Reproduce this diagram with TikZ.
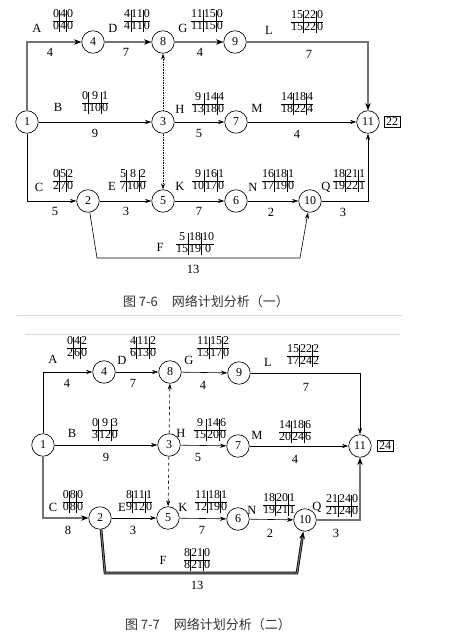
\documentclass[tikz,border=0pt]{standalone}
\usepackage{fontspec}
\setmainfont{Liberation Serif}
\newfontfamily\cjk{Noto Sans CJK SC}
\usetikzlibrary{arrows.meta}
\newcommand{\tsix}[6]{{\setlength{\tabcolsep}{0.5pt}\renewcommand{\arraystretch}{0.82}\begin{tabular}{@{}c|c|c@{}}#1&#2&#3\\\hline #4&#5&#6\end{tabular}}}
\begin{document}
\begin{tikzpicture}[x=1pt,y=-1pt,
  ev/.style={circle, draw, minimum size=22.5pt, inner sep=0pt, line width=0.65pt, font=\fontsize{12}{12}\selectfont},
  lab/.style={inner sep=0pt, font=\fontsize{12.5}{13}\selectfont},
  dur/.style={inner sep=0pt, font=\fontsize{12.5}{13}\selectfont},
  tt/.style={inner sep=0pt, font=\fontsize{12}{13}\selectfont},
  act/.style={line width=0.6pt, -{Stealth[length=6.5pt,width=4.2pt]}},
  crit/.style={line width=0.75pt, double=black!55, double distance=1.1pt, -{Stealth[length=7.5pt,width=5.5pt]}},
  dumtop/.style={line width=0.65pt, densely dotted, -{Stealth[length=6pt,width=4pt]}},
  dumbot/.style={line width=0.65pt, dashed, -{Stealth[length=6pt,width=4pt]}},
  endbox/.style={draw, line width=0.6pt, inner sep=1.8pt, font=\fontsize{12}{12}\selectfont},
  sepline/.style={gray!30, line width=0.6pt},
  captext/.style={inner sep=0pt, text=black!80, font=\cjk\fontsize{13}{13}\selectfont}]
\useasboundingbox (0,0) rectangle (462,641);

% ================= Figure 7-6 =================
\node[ev] (a1) at (27,122) {1};
\node[ev] (a4) at (93,42) {4};
\node[ev] (a8) at (163,42) {8};
\node[ev] (a9) at (235,42) {9};
\node[ev] (a3) at (163,122) {3};
\node[ev] (a7) at (236,122) {7};
\node[ev] (a11) at (368,122) {11};
\node[endbox] (a22) at (392,122) {22};
\node[ev] (a2) at (88,201) {2};
\node[ev] (a5) at (163,201) {5};
\node[ev] (a6) at (236,201) {6};
\node[ev] (a10) at (310,201) {10};
\coordinate (af1) at (97,258);
\coordinate (af2) at (300,258);

\draw[crit] (a1) |- (a4);
\draw[crit] (a4) -- (a8);
\draw[crit] (a8) -- (a9);
\draw[crit] (a9) -| (a11);
\draw[act] (a1) -- (a3);
\draw[act] (a3) -- (a7);
\draw[act] (a7) -- (a11);
\draw[act] (a1) |- (a2);
\draw[act] (a2) -- (a5);
\draw[act] (a5) -- (a6);
\draw[act] (a6) -- (a10);
\draw[act] (a10) -| (a11);
\draw[act] (a2) -- (af1) -- (af2) -- (a10);
\draw[dumtop] (a3) -- (a8);
\draw[dumtop] (a3) -- (a5);

\node[lab] (aA) at (37,28) {A};
\node[tt] (aAt) at (63,21) {\tsix{0}{4}{0}{0}{4}{0}};
\node[dur] (aAd) at (50,52) {4};
\node[lab] (aD) at (113,28) {D};
\node[tt] (aDt) at (137,21) {\tsix{4}{11}{0}{4}{11}{0}};
\node[dur] (aDd) at (126,52) {7};
\node[lab] (aG) at (183,28) {G};
\node[tt] (aGt) at (207,21) {\tsix{11}{15}{0}{11}{15}{0}};
\node[dur] (aGd) at (200,52) {4};
\node[lab] (aL) at (269,30) {L};
\node[tt] (aLt) at (307,22) {\tsix{15}{22}{0}{15}{22}{0}};
\node[dur] (aLd) at (309,54) {7};
\node[lab] (aB) at (58,107) {B};
\node[tt] (aBt) at (95,103) {\tsix{0}{9}{1}{1}{10}{0}};
\node[dur] (aBd) at (95,133) {9};
\node[lab] (aH) at (180,109) {H};
\node[tt] (aHt) at (208,104) {\tsix{9}{14}{4}{13}{18}{0}};
\node[dur] (aHd) at (199,133) {5};
\node[lab] (aM) at (257,108) {M};
\node[tt] (aMt) at (297,104) {\tsix{14}{18}{4}{18}{22}{4}};
\node[dur] (aMd) at (297,134) {4};
\node[lab] (aC) at (39,187) {C};
\node[tt] (aCt) at (63,181) {\tsix{0}{5}{2}{2}{7}{0}};
\node[dur] (aCd) at (55,211) {5};
\node[lab] (aE) at (112,186) {E};
\node[tt] (aEt) at (133,181) {\tsix{5}{8}{2}{7}{10}{0}};
\node[dur] (aEd) at (126,211) {3};
\node[lab] (aK) at (180,186) {K};
\node[tt] (aKt) at (208,181) {\tsix{9}{16}{1}{10}{17}{0}};
\node[dur] (aKd) at (199,211) {7};
\node[lab] (aN) at (253,187) {N};
\node[tt] (aNt) at (278,181) {\tsix{16}{18}{1}{17}{19}{0}};
\node[dur] (aNd) at (271,212) {2};
\node[lab] (aQ) at (326,187) {Q};
\node[tt] (aQt) at (349,181) {\tsix{18}{21}{1}{19}{22}{1}};
\node[dur] (aQd) at (343,212) {3};
\node[lab] (aF) at (160,247) {F};
\node[tt] (aFt) at (195,244) {\tsix{5}{18}{10}{15}{19}{0}};
\node[dur] (aFd) at (193,269) {13};

\node[captext] (cap1) at (206,302) {图 7-6\hspace{14pt}网络计划分析（一）};

\draw[sepline] (17,315) -- (402,315);
\draw[sepline] (25,334) -- (400,334);

% ================= Figure 7-7 =================
\node[ev] (b1) at (43,445) {1};
\node[ev] (b4) at (104,372) {4};
\node[ev] (b8) at (170,372) {8};
\node[ev] (b9) at (239,373) {9};
\node[ev] (b3) at (169,445) {3};
\node[ev] (b7) at (238,446) {7};
\node[ev] (b11) at (360,446) {11};
\node[endbox] (b24) at (385,446) {24};
\node[ev] (b2) at (100,518) {2};
\node[ev] (b5) at (168,518) {5};
\node[ev] (b6) at (238,519) {6};
\node[ev] (b10) at (305,520) {10};
\coordinate (bf1) at (105,573);
\coordinate (bf2) at (297,573);

\draw[act] (b1) |- (b4);
\draw[act] (b4) -- (b8);
\draw[act] (b8) -- (b9);
\draw[act] (b9) -| (b11);
\draw[act] (b1) -- (b3);
\draw[act] (b3) -- (b7);
\draw[act] (b7) -- (b11);
\draw[crit] (b1) |- (b2);
\draw[act] (b2) -- (b5);
\draw[act] (b5) -- (b6);
\draw[act] (b6) -- (b10);
\draw[crit] (b10) -| (b11);
\draw[crit] (b2) -- (bf1) -- (bf2) -- (b10);
\draw[dumbot] (b3) -- (b8);
\draw[dumbot] (b3) -- (b5);

\node[lab] (bA) at (53,359) {A};
\node[tt] (bAt) at (77,348) {\tsix{0}{4}{2}{2}{6}{0}};
\node[dur] (bAd) at (67,383) {4};
\node[lab] (bD) at (122,360) {D};
\node[tt] (bDt) at (143,348) {\tsix{4}{11}{2}{6}{13}{0}};
\node[dur] (bDd) at (133,383) {7};
\node[lab] (bG) at (189,360) {G};
\node[tt] (bGt) at (213,348) {\tsix{11}{15}{2}{13}{17}{0}};
\node[dur] (bGd) at (203,385) {4};
\node[lab] (bL) at (268,362) {L};
\node[tt] (bLt) at (303,356) {\tsix{15}{22}{2}{17}{24}{2}};
\node[dur] (bLd) at (306,387) {7};
\node[lab] (bB) at (72,433) {B};
\node[tt] (bBt) at (105,430) {\tsix{0}{9}{3}{3}{12}{0}};
\node[dur] (bBd) at (106,457) {9};
\node[lab] (bH) at (181,433) {H};
\node[tt] (bHt) at (210,430) {\tsix{9}{14}{6}{15}{20}{0}};
\node[dur] (bHd) at (198,457) {5};
\node[lab] (bM) at (257,435) {M};
\node[tt] (bMt) at (295,432) {\tsix{14}{18}{6}{20}{24}{6}};
\node[dur] (bMd) at (295,459) {4};
\node[lab] (bC) at (53,507) {C};
\node[tt] (bCt) at (73,502) {\tsix{0}{8}{0}{0}{8}{0}};
\node[dur] (bCd) at (68,530) {8};
\node[lab] (bE) at (122,507) {E};
\node[tt] (bEt) at (139,502) {\tsix{8}{11}{1}{9}{12}{0}};
\node[dur] (bEd) at (133,530) {3};
\node[lab] (bK) at (183,507) {K};
\node[tt] (bKt) at (211,502) {\tsix{11}{18}{1}{12}{19}{0}};
\node[dur] (bKd) at (202,530) {7};
\node[lab] (bN) at (252,510) {N};
\node[tt] (bNt) at (279,505) {\tsix{18}{20}{1}{19}{21}{1}};
\node[dur] (bNd) at (270,533) {2};
\node[lab] (bQ) at (317,507) {Q};
\node[tt] (bQt) at (342,506) {\tsix{21}{24}{0}{21}{24}{0}};
\node[dur] (bQd) at (336,533) {3};
\node[lab] (bF) at (163,560) {F};
\node[tt] (bFt) at (197,560) {\tsix{8}{21}{0}{8}{21}{0}};
\node[dur] (bFd) at (197,585) {13};

\node[captext] (cap2) at (208,625) {图 7-7\hspace{14pt}网络计划分析（二）};
\end{tikzpicture}
\end{document}
